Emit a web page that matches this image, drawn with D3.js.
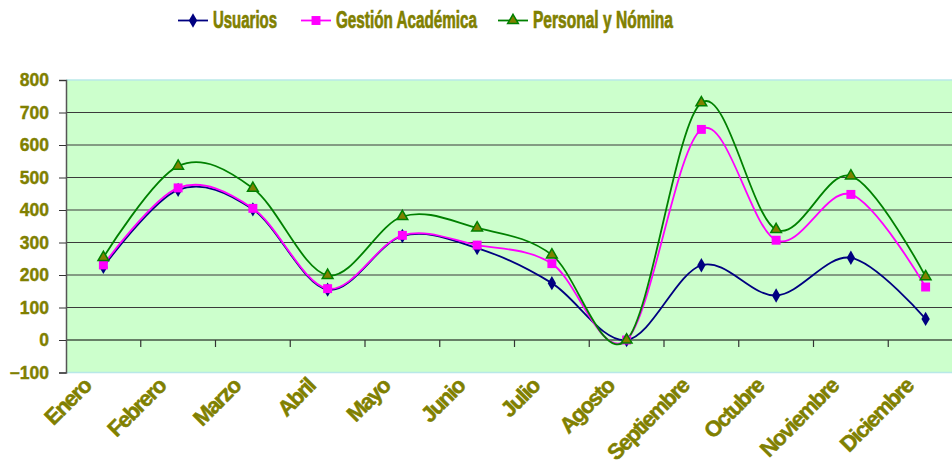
<!DOCTYPE html>
<html>
<head>
<meta charset="utf-8">
<script src="https://cdn.jsdelivr.net/npm/d3@7"></script>
<style>
  body { margin: 0; background: #fff; }
  svg { display: block; font-family: "Liberation Sans", Arial, sans-serif; }
</style>
</head>
<body>
<div id="chart"></div>
<script>
// data
const months = ["Enero", "Febrero", "Marzo", "Abril", "Mayo", "Junio", "Julio", "Agosto", "Septiembre", "Octubre", "Noviembre", "Diciembre"];
const usuarios = [225, 462, 402, 155, 320, 283, 175, 0, 230, 137, 253, 65];
const gestion = [231, 468, 405, 158, 322, 292, 235, 0, 648, 307, 448, 163];
const personal = [254, 535, 467, 199, 380, 345, 262, 0, 730, 340, 505, 195];
const yTicks = [-100, 0, 100, 200, 300, 400, 500, 600, 700, 800];

const series = [
  { name: "Usuarios", values: usuarios, color: "#000080", marker: "diamond" },
  { name: "Gestión Académica", values: gestion, color: "#ff00ff", marker: "square" },
  { name: "Personal y Nómina", values: personal, color: "#008000", marker: "triangle" }
];

const width = 952, height = 468;
const olive = "#808000";

const svg = d3.select("#chart").append("svg")
  .attr("width", width)
  .attr("height", height);

const x = d3.scaleBand().domain(months).range([66, 963]);
const y = d3.scaleLinear().domain([-100, 800]).range([372.5, 80]);
const cx = (m) => x(m) + x.bandwidth() / 2;

// plot area background
svg.append("rect")
  .attr("x", 66).attr("y", y(800))
  .attr("width", width - 66).attr("height", y(-100) - y(800))
  .attr("fill", "#ccffcc");
[800, -100].forEach((v) => {
  svg.append("line")
    .attr("x1", 66).attr("x2", width)
    .attr("y1", y(v)).attr("y2", y(v))
    .attr("stroke", "#b8e8e8").attr("stroke-width", 1.5);
});

// gridlines
svg.append("g")
  .selectAll("line")
  .data(yTicks.filter((t) => t > -100 && t < 800))
  .enter()
  .append("line")
  .attr("x1", 66).attr("x2", width)
  .attr("y1", (d) => y(d)).attr("y2", (d) => y(d))
  .attr("stroke", (d) => (d === 0 ? "#000" : "#3a3a3a"))
  .attr("stroke-width", 1.2);

// y axis
const yAxis = svg.append("g")
  .attr("transform", "translate(66,0)")
  .call(d3.axisLeft(y).tickValues(yTicks).tickSize(7).tickPadding(10));
yAxis.select(".domain").attr("stroke", "#555").attr("stroke-width", 1.5);
yAxis.selectAll(".tick line").attr("stroke", "#333");
yAxis.selectAll(".tick text")
  .attr("fill", olive)
  .attr("stroke", olive)
  .attr("stroke-width", 0.4)
  .style("font-size", "17.5px")
  .style("font-weight", "bold")
  .style("font-family", "Liberation Sans, Arial, sans-serif");

// category ticks along the zero line
svg.append("g")
  .attr("transform", `translate(0,${y(0)})`)
  .selectAll("line")
  .data(months.slice(1).concat(["end"]))
  .enter()
  .append("line")
  .attr("x1", (d) => (d === "end" ? x.range()[1] : x(d)))
  .attr("x2", (d) => (d === "end" ? x.range()[1] : x(d)))
  .attr("y1", 0).attr("y2", 7)
  .attr("stroke", "#333").attr("stroke-width", 1.2);

svg.append("g")
  .selectAll("text")
  .data(months)
  .enter()
  .append("text")
  .attr("transform", (d) => `translate(${cx(d) - 11},${y(-100) + 15}) rotate(-45)`)
  .attr("text-anchor", "end")
  .attr("fill", olive)
  .attr("stroke", olive)
  .attr("stroke-width", 0.5)
  .style("font-size", "22px")
  .style("font-weight", "bold")
  .style("letter-spacing", "-1.5px")
  .text((d) => d);

// lines
const line = d3.line()
  .x((d, i) => cx(months[i]))
  .y((d) => y(d))
  .curve(d3.curveCardinal.tension(0));

const marker = {
  diamond: d3.symbol().type(d3.symbolDiamond).size(60),
  square: d3.symbol().type(d3.symbolSquare).size(80),
  triangle: d3.symbol().type(d3.symbolTriangle).size(50)
};

series.forEach((s) => {
  svg.append("path")
    .datum(s.values)
    .attr("fill", "none")
    .attr("stroke", s.color)
    .attr("stroke-width", 1.8)
    .attr("d", line);
});

series.forEach((s) => {
  svg.append("g")
    .selectAll("path")
    .data(s.values)
    .enter()
    .append("path")
    .attr("transform", (d, i) => `translate(${cx(months[i])},${y(d)})`)
    .attr("d", marker[s.marker])
    .attr("fill", s.marker === "triangle" ? olive : s.color)
    .attr("stroke", s.marker === "triangle" ? "#008000" : "none")
    .attr("stroke-width", 1.5);
});

// legend
const legendItems = [
  { s: series[0], x: 178, len: 64 },
  { s: series[1], x: 301, len: 141 },
  { s: series[2], x: 498, len: 140 }
];
const legend = svg.append("g");
legendItems.forEach((it) => {
  const g = legend.append("g").attr("transform", `translate(${it.x},20.5)`);
  g.append("line")
    .attr("x1", 0).attr("x2", 30)
    .attr("stroke", it.s.color).attr("stroke-width", 1.8);
  g.append("path")
    .attr("transform", "translate(15,0)")
    .attr("d", marker[it.s.marker])
    .attr("fill", it.s.marker === "triangle" ? olive : it.s.color)
    .attr("stroke", it.s.marker === "triangle" ? "#008000" : "none")
    .attr("stroke-width", 1.5);
  g.append("text")
    .attr("x", 35).attr("y", 7)
    .attr("fill", olive)
    .attr("stroke", olive)
    .attr("stroke-width", 0.7)
    .attr("textLength", it.len)
    .attr("lengthAdjust", "spacingAndGlyphs")
    .style("font-size", "23px")
    .style("font-weight", "bold")
    .text(it.s.name);
});
</script>
</body>
</html>
